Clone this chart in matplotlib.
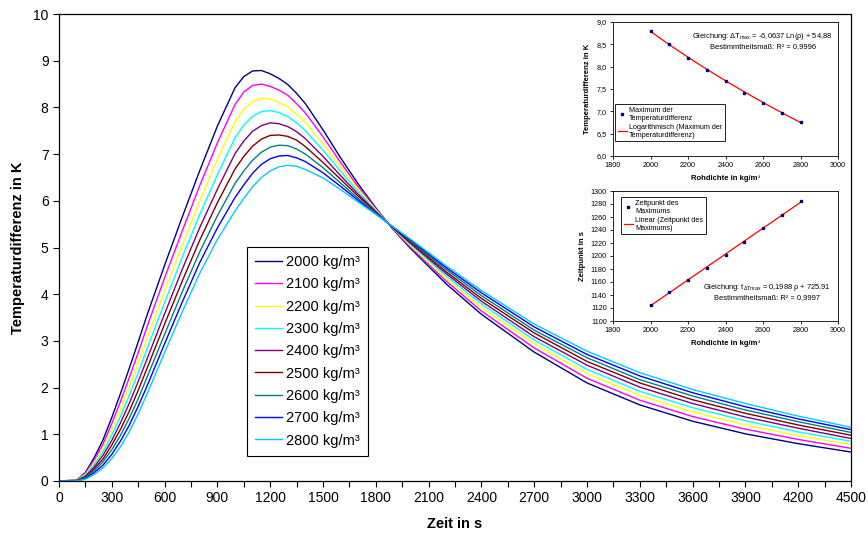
import matplotlib
matplotlib.use("Agg")
import matplotlib.pyplot as plt
import numpy as np
from matplotlib.ticker import FuncFormatter, MultipleLocator

plt.rcParams["font.family"] = ["Liberation Sans", "DejaVu Sans"]
plt.rcParams["mathtext.fontset"] = "custom"
plt.rcParams["mathtext.rm"] = "Liberation Sans"
plt.rcParams["mathtext.it"] = "Liberation Sans:italic"

# Zeit in s
zeit = [0, 100, 150, 200, 250, 300, 350, 400, 450, 500, 600, 700, 800, 900, 1000,
        1050, 1100, 1150, 1200, 1250, 1300, 1350, 1400, 1500, 1600, 1700, 1800,
        1900, 2000, 2200, 2400, 2700, 3000, 3300, 3600, 3900, 4200, 4500]

# Temperaturdifferenz in K, eine Liste je Rohdichte
dt_2000 = [0, 0.02, 0.18, 0.50, 0.88, 1.36, 1.88, 2.42, 2.98, 3.55, 4.62, 5.65, 6.65, 7.60, 8.42,
           8.66, 8.78, 8.79, 8.72, 8.62, 8.49, 8.30, 8.08, 7.52, 6.92, 6.36, 5.85,
           5.38, 4.97, 4.22, 3.57, 2.76, 2.10, 1.63, 1.28, 1.01, 0.80, 0.62]
dt_2100 = [0, 0.02, 0.16, 0.45, 0.79, 1.23, 1.71, 2.22, 2.75, 3.30, 4.35, 5.35, 6.33, 7.24, 8.06,
           8.33, 8.47, 8.50, 8.45, 8.37, 8.26, 8.08, 7.88, 7.37, 6.82, 6.30, 5.83,
           5.39, 5.00, 4.28, 3.64, 2.85, 2.20, 1.73, 1.38, 1.11, 0.89, 0.70]
dt_2200 = [0, 0.02, 0.14, 0.39, 0.70, 1.10, 1.54, 2.02, 2.53, 3.05, 4.07, 5.05, 6.00, 6.89, 7.69,
           7.96, 8.13, 8.20, 8.18, 8.11, 8.01, 7.86, 7.68, 7.22, 6.72, 6.25, 5.81,
           5.40, 5.03, 4.33, 3.72, 2.94, 2.30, 1.83, 1.48, 1.20, 0.97, 0.78]
dt_2300 = [0, 0.01, 0.12, 0.35, 0.62, 0.99, 1.39, 1.84, 2.32, 2.83, 3.82, 4.79, 5.71, 6.56, 7.35,
           7.62, 7.81, 7.91, 7.93, 7.89, 7.80, 7.67, 7.50, 7.08, 6.63, 6.19, 5.79,
           5.41, 5.06, 4.39, 3.79, 3.02, 2.39, 1.92, 1.57, 1.29, 1.05, 0.85]
dt_2400 = [0, 0.01, 0.10, 0.30, 0.55, 0.87, 1.25, 1.67, 2.13, 2.61, 3.58, 4.53, 5.43, 6.25, 7.01,
           7.28, 7.49, 7.61, 7.67, 7.65, 7.59, 7.48, 7.33, 6.95, 6.54, 6.14, 5.77,
           5.41, 5.08, 4.44, 3.85, 3.09, 2.48, 2.01, 1.66, 1.37, 1.13, 0.91]
dt_2500 = [0, 0.01, 0.09, 0.26, 0.47, 0.77, 1.11, 1.50, 1.94, 2.41, 3.36, 4.28, 5.16, 5.96, 6.68,
           6.95, 7.17, 7.32, 7.40, 7.41, 7.38, 7.30, 7.16, 6.82, 6.46, 6.10, 5.76,
           5.42, 5.11, 4.48, 3.91, 3.17, 2.56, 2.10, 1.74, 1.45, 1.20, 0.98]
dt_2600 = [0, 0.01, 0.07, 0.22, 0.41, 0.67, 0.98, 1.35, 1.76, 2.22, 3.14, 4.05, 4.91, 5.68, 6.37,
           6.64, 6.87, 7.04, 7.15, 7.19, 7.18, 7.11, 7.00, 6.71, 6.38, 6.05, 5.74,
           5.43, 5.13, 4.53, 3.97, 3.23, 2.64, 2.17, 1.82, 1.52, 1.27, 1.04]
dt_2700 = [0, 0.0, 0.05, 0.18, 0.34, 0.57, 0.86, 1.20, 1.60, 2.03, 2.94, 3.83, 4.68, 5.42, 6.07,
           6.34, 6.59, 6.78, 6.90, 6.96, 6.97, 6.92, 6.84, 6.60, 6.31, 6.01, 5.72,
           5.43, 5.15, 4.57, 4.03, 3.30, 2.71, 2.25, 1.89, 1.59, 1.33, 1.10]
dt_2800 = [0, 0.0, 0.04, 0.14, 0.28, 0.48, 0.74, 1.06, 1.44, 1.86, 2.75, 3.62, 4.45, 5.17, 5.78,
           6.05, 6.30, 6.50, 6.64, 6.73, 6.76, 6.74, 6.67, 6.49, 6.24, 5.97, 5.71,
           5.44, 5.17, 4.61, 4.08, 3.36, 2.78, 2.32, 1.96, 1.66, 1.39, 1.15]

kurven = [dt_2000, dt_2100, dt_2200, dt_2300, dt_2400, dt_2500, dt_2600, dt_2700, dt_2800]
namen = ["2000 kg/m³", "2100 kg/m³", "2200 kg/m³", "2300 kg/m³", "2400 kg/m³",
         "2500 kg/m³", "2600 kg/m³", "2700 kg/m³", "2800 kg/m³"]
farben = ["#000080", "#FF00FF", "#FFFF00", "#00FFFF", "#800080",
          "#800000", "#008080", "#0000FF", "#00CCFF"]

# Auswertung der Maxima
rohdichte = [2000, 2100, 2200, 2300, 2400, 2500, 2600, 2700, 2800]
dt_max = [8.80, 8.50, 8.20, 7.93, 7.67, 7.42, 7.19, 6.97, 6.76]
t_max = [1125, 1144, 1163, 1182, 1202, 1222, 1243, 1263, 1284]
log_a, log_b = -6.0637, 54.88     # Trendlinie dT = a ln(rho) + b
lin_a, lin_b = 0.1988, 725.91     # Trendlinie t = a rho + b

W, H = 868, 536


def rect(l, t, r, b):
    return [l / W, 1 - b / H, (r - l) / W, (b - t) / H]


def komma(fmt):
    return FuncFormatter(lambda v, p: (fmt % v).replace(".", ","))


fig = plt.figure(figsize=(W / 100, H / 100), dpi=100)
fig.patch.set_facecolor("white")

ax = fig.add_axes(rect(59, 14, 851, 481))
for werte, name, farbe in zip(kurven, namen, farben):
    ax.plot(zeit, werte, color=farbe, lw=1.0, label=name)
ax.set_xlim(0, 4500)
ax.set_ylim(0, 10)
ax.xaxis.set_major_locator(MultipleLocator(300))
ax.xaxis.set_minor_locator(MultipleLocator(150))
ax.yaxis.set_major_locator(MultipleLocator(1))
ax.tick_params(which="both", direction="out", width=0.8, length=4, labelsize=10)
for s in ax.spines.values():
    s.set_linewidth(0.9)
ax.set_xlabel("Zeit in s", fontsize=10.5, fontweight="bold", labelpad=8)
ax.set_ylabel("Temperaturdifferenz in K", fontsize=10.5, fontweight="bold", labelpad=6)
leg = ax.legend(loc="upper left", bbox_to_anchor=(247 / W, 1 - 247 / H),
                bbox_transform=fig.transFigure, borderaxespad=0, fontsize=10.5,
                handlelength=1.85, handletextpad=0.3, labelspacing=0.57, borderpad=0.55,
                fancybox=False, framealpha=1, edgecolor="black")
leg.get_frame().set_linewidth(0.8)

# Inset 1: Maximum der Temperaturdifferenz
ax1 = fig.add_axes(rect(613, 22, 838, 156))
rr = np.linspace(2000, 2800, 50)
ax1.plot(rr, log_a * np.log(rr) + log_b, color="red", lw=0.9,
         label="Logarithmisch (Maximum der\nTemperaturdifferenz)")
ax1.plot(rohdichte, dt_max, ls="none", marker="s", ms=2, color="#000080",
         label="Maximum der\nTemperaturdifferenz")
ax1.set_xlim(1800, 3000)
ax1.set_ylim(6.0, 9.0)
ax1.xaxis.set_major_locator(MultipleLocator(200))
ax1.yaxis.set_major_locator(MultipleLocator(0.5))
ax1.yaxis.set_major_formatter(komma("%.1f"))
ax1.set_xlabel("Rohdichte in kg/m³", fontsize=5.5, fontweight="bold", labelpad=4)
ax1.set_ylabel("Temperaturdifferenz in K", fontsize=5.5, fontweight="bold", labelpad=4)
ax1.text(0.665, 0.86, "Gleichung: ΔT$_{\\mathrm{max}}$ = -6,0637 Ln(ρ) + 54,88\n"
         "Bestimmtheitsmaß: R² = 0,9996", transform=ax1.transAxes,
         fontsize=5.4, ha="center", va="center", multialignment="center")
h, l = ax1.get_legend_handles_labels()
lg1 = ax1.legend(h[::-1], l[::-1], loc="upper left",
                 bbox_to_anchor=(615 / W, 1 - 104 / H), bbox_transform=fig.transFigure,
                 borderaxespad=0, fontsize=5.2, handlelength=1.3, handletextpad=0.3,
                 labelspacing=0.3, borderpad=0.35, fancybox=False, framealpha=1,
                 edgecolor="black")
lg1.get_frame().set_linewidth(0.6)

# Inset 2: Zeitpunkt des Maximums
ax2 = fig.add_axes(rect(613, 191, 838, 321))
ax2.plot(rr, lin_a * rr + lin_b, color="red", lw=0.9,
         label="Linear (Zeitpunkt des\nMaximums)")
ax2.plot(rohdichte, t_max, ls="none", marker="s", ms=2, color="#000080",
         label="Zeitpunkt des\nMaximums")
ax2.set_xlim(1800, 3000)
ax2.set_ylim(1100, 1300)
ax2.xaxis.set_major_locator(MultipleLocator(200))
ax2.yaxis.set_major_locator(MultipleLocator(20))
ax2.set_xlabel("Rohdichte in kg/m³", fontsize=5.5, fontweight="bold", labelpad=4)
ax2.set_ylabel("Zeitpunkt in s", fontsize=5.5, fontweight="bold", labelpad=3)
ax2.text(0.685, 0.225, "Gleichung: t$_{\\Delta\\mathrm{Tmax}}$ = 0,1988 ρ + 725,91\n"
         "Bestimmtheitsmaß: R² = 0,9997", transform=ax2.transAxes,
         fontsize=5.4, ha="center", va="center", multialignment="center")
h, l = ax2.get_legend_handles_labels()
lg2 = ax2.legend(h[::-1], l[::-1], loc="upper left",
                 bbox_to_anchor=(621 / W, 1 - 197 / H), bbox_transform=fig.transFigure,
                 borderaxespad=0, fontsize=5.2, handlelength=1.3, handletextpad=0.3,
                 labelspacing=0.3, borderpad=0.35, fancybox=False, framealpha=1,
                 edgecolor="black")
lg2.get_frame().set_linewidth(0.6)

for a in (ax1, ax2):
    a.tick_params(direction="out", length=2.5, width=0.6, labelsize=5.2, pad=2)
    for s in a.spines.values():
        s.set_linewidth(0.6)

fig.savefig("out.png", dpi=100)
